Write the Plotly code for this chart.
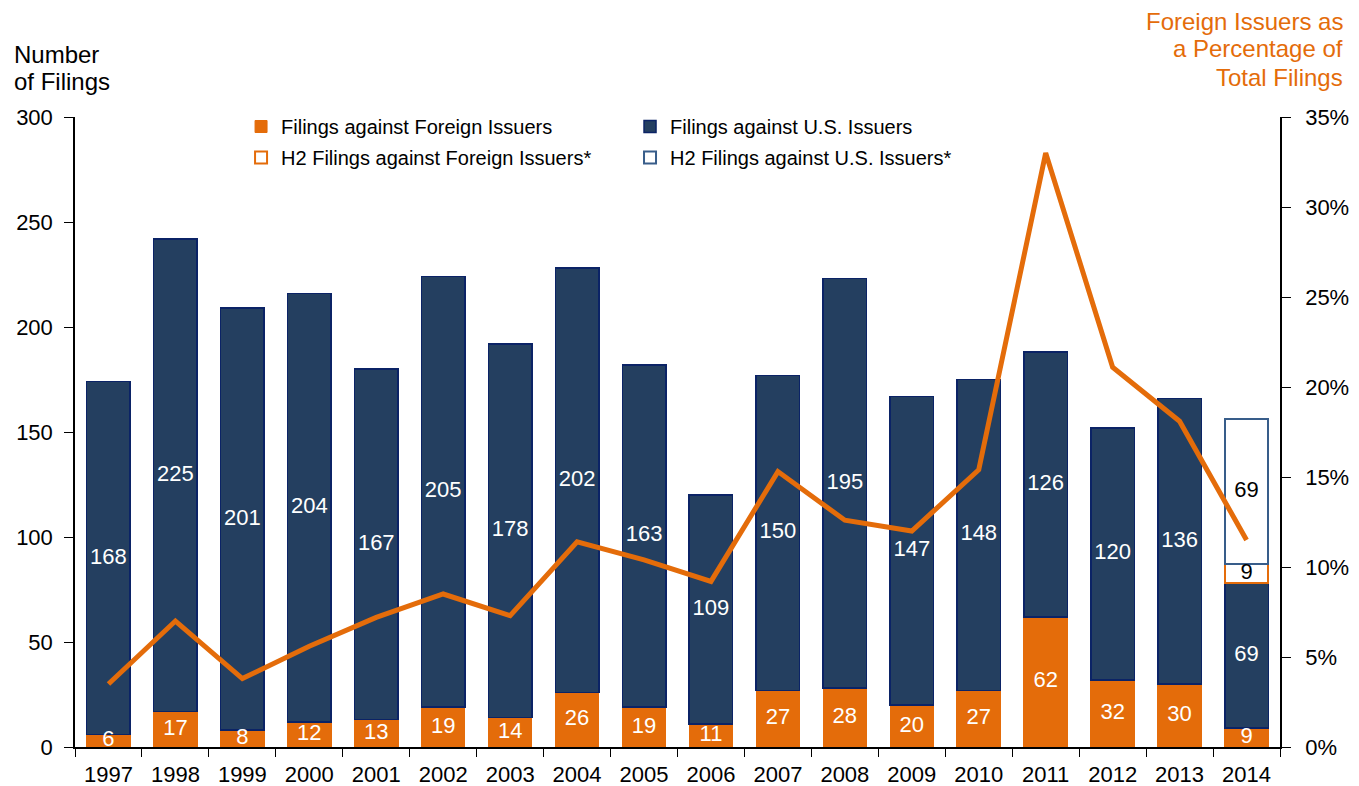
import plotly.graph_objects as go

years = ["1997", "1998", "1999", "2000", "2001", "2002", "2003", "2004", "2005",
         "2006", "2007", "2008", "2009", "2010", "2011", "2012", "2013", "2014"]
foreign = [6, 17, 8, 12, 13, 19, 14, 26, 19, 11, 27, 28, 20, 27, 62, 32, 30, 9]
us = [168, 225, 201, 204, 167, 205, 178, 202, 163, 109, 150, 195, 147, 148, 126, 120, 136, 69]
h2_foreign = [None] * 17 + [9]
h2_us = [None] * 17 + [69]
pct_foreign = [0.035, 0.070, 0.038, 0.056, 0.072, 0.085, 0.073, 0.114, 0.104,
               0.092, 0.153, 0.126, 0.120, 0.154, 0.330, 0.211, 0.181, 0.115]

ORANGE = "#E46C0A"
NAVY = "#243F60"
NAVY_LINE = "#0B2366"
FONT = "Liberation Sans, Arial, sans-serif"

fig = go.Figure()

fig.add_trace(go.Bar(x=years, y=foreign, name="Filings against Foreign Issuers",
                     marker=dict(color=ORANGE, line=dict(color=ORANGE, width=1)),
                     width=0.65, legend="legend", legendgroup="a"))
fig.add_trace(go.Bar(x=years, y=us, name="Filings against U.S. Issuers",
                     marker=dict(color=NAVY, line=dict(color=NAVY_LINE, width=1.5)),
                     width=0.65, legend="legend2", legendgroup="b"))
fig.add_trace(go.Bar(x=years, y=h2_foreign, name="H2 Filings against Foreign Issuers*",
                     marker=dict(color="white", line=dict(color=ORANGE, width=2)),
                     width=0.65, legend="legend", legendgroup="c"))
fig.add_trace(go.Bar(x=years, y=h2_us, name="H2 Filings against U.S. Issuers*",
                     marker=dict(color="white", line=dict(color="#385D8A", width=2)),
                     width=0.65, legend="legend2", legendgroup="d"))

# value labels
fy = [f / 2 for f in foreign]
uy = [f + u / 2 for f, u in zip(foreign, us)]
fig.add_trace(go.Scatter(x=years, y=fy, text=[str(v) for v in foreign], mode="text",
                         textfont=dict(color="white", size=22, family=FONT),
                         showlegend=False, hoverinfo="skip", cliponaxis=False))
fig.add_trace(go.Scatter(x=years, y=uy, text=[str(v) for v in us], mode="text",
                         textfont=dict(color="white", size=22, family=FONT),
                         showlegend=False, hoverinfo="skip"))
h2x, h2fy, h2uy, h2ft, h2ut = [], [], [], [], []
for yr, f, u, hf, hu in zip(years, foreign, us, h2_foreign, h2_us):
    if hf is not None:
        h2x.append(yr)
        h2fy.append(f + u + hf / 2)
        h2uy.append(f + u + hf + hu / 2)
        h2ft.append(str(hf))
        h2ut.append(str(hu))
fig.add_trace(go.Scatter(x=h2x, y=h2fy, text=h2ft, mode="text",
                         textfont=dict(color="black", size=22, family=FONT),
                         showlegend=False, hoverinfo="skip"))
fig.add_trace(go.Scatter(x=h2x, y=h2uy, text=h2ut, mode="text",
                         textfont=dict(color="black", size=22, family=FONT),
                         showlegend=False, hoverinfo="skip"))

fig.add_trace(go.Scatter(x=years, y=pct_foreign, mode="lines", yaxis="y2",
                         line=dict(color=ORANGE, width=5), showlegend=False))


def py(sy):
    # screen pixel row -> paper fraction (plot area spans rows 117..747)
    return (747 - sy) / 630


title_left = ["Number", "of Filings"]
title_left_rows = [55, 82]
title_right = ["Foreign Issuers as", "a Percentage of", "Total Filings"]
title_right_rows = [21, 49, 77]

annotations = []
for t, r in zip(title_left, title_left_rows):
    annotations.append(dict(text=t, xref="paper", yref="paper", x=-0.0523, y=py(r),
                            xanchor="left", yanchor="middle", showarrow=False,
                            font=dict(size=24, color="black")))
for t, r in zip(title_right, title_right_rows):
    annotations.append(dict(text=t, xref="paper", yref="paper", x=1.054, y=py(r),
                            xanchor="right", yanchor="middle", showarrow=False,
                            font=dict(size=24, color=ORANGE)))

fig.update_layout(
    width=1351, height=778,
    margin=dict(l=67, r=79, t=109, b=39, autoexpand=False),
    paper_bgcolor="white", plot_bgcolor="white",
    barmode="stack",
    font=dict(family=FONT, size=22, color="black"),
    xaxis=dict(type="category", range=[-0.5, 17.5], showline=True, linecolor="black",
               linewidth=1.5, ticks="outside", tickson="boundaries", ticklen=8,
               tickcolor="black", showgrid=False, tickfont=dict(size=22),
               ticklabelstandoff=7, automargin=False),
    yaxis=dict(range=[0, 300], dtick=50, showline=True, linecolor="black", linewidth=1.5,
               ticks="outside", ticklen=9, tickcolor="black", showgrid=False,
               zeroline=False, tickfont=dict(size=22), ticklabelstandoff=7,
               automargin=False),
    yaxis2=dict(range=[0, 0.35], dtick=0.05, tickformat=".0%", overlaying="y", side="right",
                showline=True, linecolor="black", linewidth=1.5, ticks="outside", ticklen=9,
                tickcolor="black", showgrid=False, zeroline=False, tickfont=dict(size=22),
                ticklabelstandoff=10, automargin=False),
    legend=dict(x=0.1378, y=1 - 99 / 778, yref="container", xanchor="left", yanchor="top",
                orientation="v", font=dict(size=20), tracegroupgap=2,
                bgcolor="rgba(0,0,0,0)"),
    legend2=dict(x=0.4606, y=1 - 99 / 778, yref="container", xanchor="left", yanchor="top",
                 orientation="v", font=dict(size=20), tracegroupgap=2,
                 bgcolor="rgba(0,0,0,0)"),
    annotations=annotations,
)

fig.write_html("out.html")
